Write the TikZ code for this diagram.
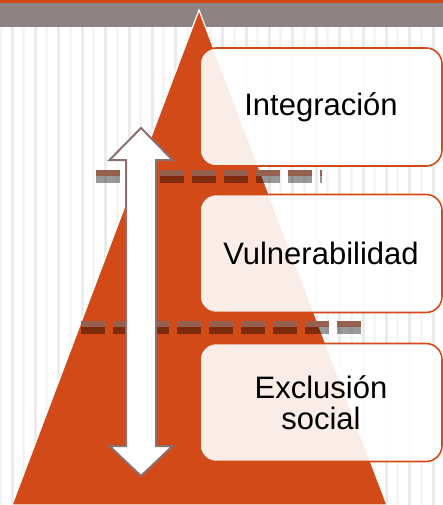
\documentclass[tikz,border=0pt]{standalone}
\usepackage{fontspec}
\setmainfont{Liberation Sans}
\usepackage{tikz}

\definecolor{rust}{HTML}{D24A17}
\definecolor{band}{HTML}{8E8383}
\definecolor{brick}{HTML}{95604E}
\definecolor{arrowline}{HTML}{8C7070}

\tikzset{
  levelbox/.style={draw=rust, line width=1.6pt, fill=white, fill opacity=.9, text opacity=1,
    rounded corners=16pt, minimum width=242pt, minimum height=118pt, align=center,
    font=\fontsize{31}{31}\selectfont},
  sep/.style={line width=6.5pt, dash pattern=on 24pt off 8pt},
}

\begin{document}
\begin{tikzpicture}[x=1pt, y=-1pt]
\useasboundingbox (0,0) rectangle (443,505);
%background
\fill[white] (0,0) rectangle (443,505);
\foreach \k in {0,...,19} {
  \fill[black!8] (\k*23.4+10.5,27) rectangle ++(3,478);
  \fill[black!4] (\k*23.4-1.5,27) rectangle ++(3,478);
}
\fill[band] (0,3) rectangle (443,27);
\fill[rust] (0,0) rectangle (443,3);
%pyramid
\filldraw[fill=rust, draw=white, line width=1.2pt] (199,10) -- (12,505) -- (387,505) -- cycle;
%separators
\draw[sep, brick] (96,173) -- (322,173);
\draw[sep, black, draw opacity=.4] (96,179.5) -- (322,179.5);
\draw[sep, brick] (81,324) -- (361,324);
\draw[sep, black, draw opacity=.4] (81,330.5) -- (361,330.5);
%levels
\node[levelbox] (integracion) at (321,107) {Integración};
\node[levelbox] (vulnerabilidad) at (321,253.5) {Vulnerabilidad};
\node[levelbox] (exclusion) at (321,402.5) {Exclusión\\social};
%arrow
\draw[arrowline, fill=white, line width=2pt, line join=miter]
  (141,128) -- (172.5,160) -- (156,160) -- (156,446) -- (172.5,446) -- (141,476)
  -- (109.5,446) -- (126,446) -- (126,160) -- (109.5,160) -- cycle;
\end{tikzpicture}
\end{document}
